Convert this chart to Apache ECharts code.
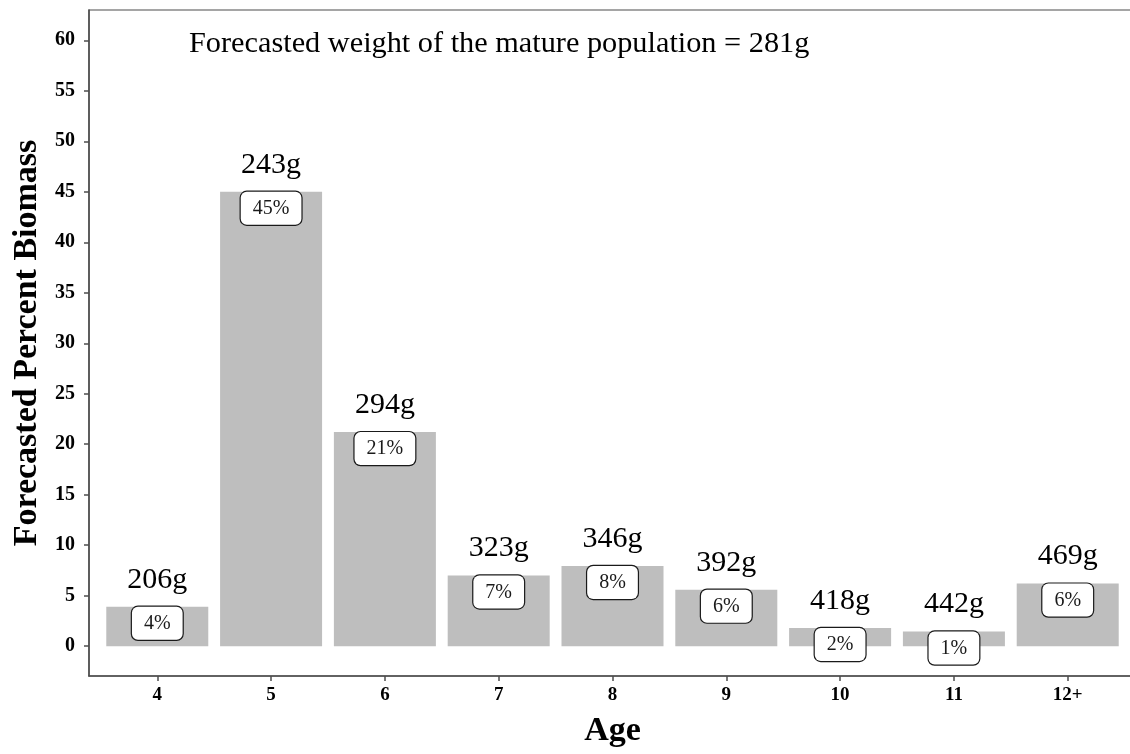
<!DOCTYPE html>
<html>
<head>
<meta charset="utf-8">
<script src="https://cdn.jsdelivr.net/npm/echarts@6/dist/echarts.min.js"></script>
<style>
  html, body { margin: 0; padding: 0; background: #fff; }
  #biomassBar { width: 1130px; height: 754px; }
</style>
</head>
<body>
<div id="biomassBar"></div>
<script>
// age classes (x axis tick labels)
const ages = ['4', '5', '6', '7', '8', '9', '10', '11', '12+']
// forecasted percent biomass (bar heights)
const biomassPct = [3.9, 45.0, 21.2, 7.0, 7.95, 5.6, 1.8, 1.45, 6.2]
// rounded labels shown in the boxes
const pctLabels = ['4%', '45%', '21%', '7%', '8%', '6%', '2%', '1%', '6%']
// mean weight at age
const weightLabels = ['206g', '243g', '294g', '323g', '346g', '392g', '418g', '442g', '469g']
// y axis ticks
const yTicks = [0, 5, 10, 15, 20, 25, 30, 35, 40, 45, 50, 55, 60]

const serif = 'Liberation Serif, Times New Roman, serif'
const axisGrey = '#4d4d4d'

const chart = echarts.init(document.getElementById('biomassBar'))
const ageIdx = ages.map((a, i) => i)

chart.setOption({
  animation: false,
  title: {
    text: 'Forecasted weight of the mature population = 281g',
    left: 184,
    top: 24,
    textStyle: {
      fontFamily: serif,
      fontWeight: 'normal',
      fontSize: 30.3,
      color: '#000'
    }
  },
  grid: {
    left: 89,
    top: 10,
    width: 1047,
    height: 666,
    containLabel: false,
    outerBoundsMode: 'none',
    show: true,
    borderColor: axisGrey,
    borderWidth: 1.2
  },
  xAxis: {
    type: 'value',
    min: -0.6,
    max: 8.6,
    name: 'Age',
    nameLocation: 'middle',
    nameGap: 38,
    nameTextStyle: {
      fontFamily: serif,
      fontWeight: 'bold',
      fontSize: 34,
      color: '#000'
    },
    axisLine: { show: true, onZero: false, lineStyle: { color: axisGrey, width: 1.5 } },
    axisTick: {
      show: true,
      length: 5,
      customValues: ageIdx,
      lineStyle: { color: axisGrey, width: 1.5 }
    },
    axisLabel: {
      customValues: ageIdx,
      margin: 10,
      fontFamily: serif,
      fontWeight: 'bold',
      fontSize: 19,
      color: '#000',
      formatter(v) {
        return ages[Math.round(v)]
      }
    },
    splitLine: { show: false }
  },
  yAxis: {
    type: 'value',
    min: -2.95,
    max: 63,
    name: 'Forecasted Percent Biomass',
    nameLocation: 'middle',
    nameGap: 35,
    nameTextStyle: {
      fontFamily: serif,
      fontWeight: 'bold',
      fontSize: 34,
      color: '#000'
    },
    axisLine: { show: true, onZero: false, lineStyle: { color: axisGrey, width: 1.5 } },
    axisTick: {
      show: true,
      length: 5,
      customValues: yTicks,
      lineStyle: { color: axisGrey, width: 1.5 }
    },
    axisLabel: {
      customValues: yTicks,
      margin: 14,
      fontFamily: serif,
      fontWeight: 'bold',
      fontSize: 20,
      color: '#000'
    },
    splitLine: { show: false }
  },
  series: [
    {
      name: 'biomass',
      type: 'bar',
      barWidth: 102,
      barGap: '-100%',
      itemStyle: { color: '#bebebe' },
      label: {
        show: true,
        position: 'insideTop',
        distance: 0,
        fontFamily: serif,
        fontSize: 20,
        color: '#1a1a1a',
        backgroundColor: '#fff',
        borderColor: '#1a1a1a',
        borderWidth: 1.2,
        borderRadius: 6,
        padding: [7, 12, 6, 12],
        formatter: (p) => pctLabels[p.dataIndex]
      },
      data: biomassPct.map((v, i) => [i, v])
    },
    {
      // invisible copy only to carry the weight label above each bar
      name: 'weight',
      type: 'bar',
      barWidth: 102,
      barGap: '-100%',
      itemStyle: { color: 'rgba(0,0,0,0)' },
      label: {
        show: true,
        position: 'top',
        distance: 12,
        fontFamily: serif,
        fontSize: 30,
        color: '#000',
        formatter: (p) => weightLabels[p.dataIndex]
      },
      data: biomassPct.map((v, i) => [i, v])
    }
  ]
})
</script>
</body>
</html>
